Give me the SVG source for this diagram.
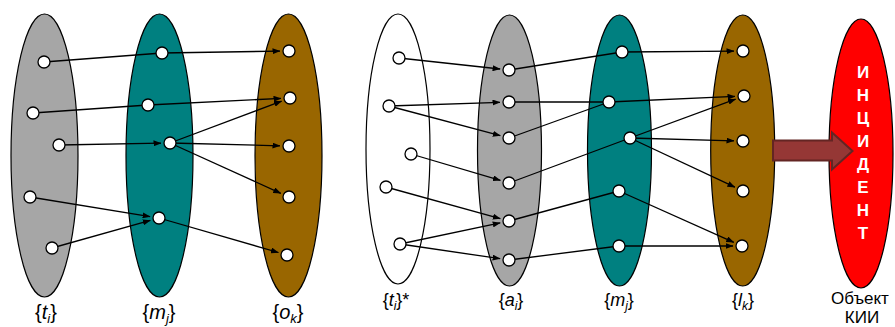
<svg xmlns="http://www.w3.org/2000/svg" width="895" height="327" viewBox="0 0 895 327">
<style>
.set{stroke:#000;stroke-width:1.2}
.pt{fill:#fff;stroke:#000;stroke-width:1.3}
.ln{stroke:#000;stroke-width:1.3;fill:none}
.ar{stroke:#000;stroke-width:1.3;fill:none;marker-end:url(#ah)}
.lbl{font-family:"Liberation Sans",Arial,sans-serif;fill:#000}
.L{font-size:20px}
.R{font-size:18px}
.K{font-size:17px}
.it{font-style:italic}
.inc{font-family:"Liberation Sans",Arial,sans-serif;font-size:17px;font-weight:bold;fill:#fff;text-anchor:middle}
</style>
<defs>
<marker id="ah" markerUnits="userSpaceOnUse" markerWidth="8" markerHeight="6" refX="7.5" refY="3" orient="auto">
<path d="M0,0 L8,3 L0,6 z" fill="#000"/>
</marker>
</defs>
<rect width="895" height="327" fill="#fff"/>

<g id="set-t"><ellipse class="set" cx="44.5" cy="155.5" rx="33.5" ry="141.5" fill="#A6A6A6"/></g>
<g id="set-m"><ellipse class="set" cx="159.5" cy="155.5" rx="33.5" ry="141.5" fill="#008080"/></g>
<g id="set-o"><ellipse class="set" cx="288.5" cy="155.5" rx="33.5" ry="141.5" fill="#996600"/></g>
<g id="set-tstar"><ellipse class="set" cx="398" cy="149" rx="32" ry="135" fill="#fff"/></g>
<g id="set-a"><ellipse class="set" cx="509.5" cy="150.5" rx="32" ry="135.5" fill="#A6A6A6"/></g>
<g id="set-m2"><ellipse class="set" cx="619.5" cy="150.5" rx="32" ry="135.5" fill="#008080"/></g>
<g id="set-l"><ellipse class="set" cx="742.7" cy="150.5" rx="32" ry="135.5" fill="#996600"/></g>
<g id="object-kii"><ellipse class="set" cx="861" cy="153.5" rx="32" ry="134.5" fill="#FF0000"/></g>

<g id="connectors">
<line class="ln" x1="44" y1="62" x2="162" y2="53"/>
<line class="ar" x1="162" y1="53" x2="280" y2="51.1"/>
<line class="ln" x1="33" y1="113" x2="148" y2="105"/>
<line class="ar" x1="148" y1="105" x2="281" y2="98.4"/>
<line class="ar" x1="59" y1="145" x2="161" y2="143.2"/>
<line class="ar" x1="170" y1="143" x2="281.6" y2="101.2"/>
<line class="ar" x1="170" y1="143" x2="280" y2="145.8"/>
<line class="ar" x1="170" y1="143" x2="280.8" y2="193.3"/>
<line class="ar" x1="30" y1="197" x2="150.1" y2="216.6"/>
<line class="ar" x1="52" y1="248" x2="150.3" y2="220.4"/>
<line class="ar" x1="159" y1="218" x2="278.4" y2="252.5"/>

<line class="ar" x1="399" y1="58" x2="500.1" y2="69"/>
<line class="ar" x1="389" y1="106" x2="500" y2="102.3"/>
<line class="ar" x1="389" y1="106" x2="500.3" y2="135.7"/>
<line class="ar" x1="411" y1="154" x2="500.4" y2="180.4"/>
<line class="ar" x1="386" y1="187" x2="500.3" y2="218.6"/>
<line class="ar" x1="400" y1="244" x2="500.2" y2="222.9"/>
<line class="ar" x1="400" y1="244" x2="500.1" y2="258.7"/>

<line class="ln" x1="509" y1="70" x2="622" y2="52"/>
<line class="ln" x1="509" y1="102" x2="609" y2="102"/>
<line class="ln" x1="509" y1="138" x2="609" y2="102"/>
<line class="ln" x1="509" y1="183" x2="630" y2="138"/>
<line class="ln" x1="509" y1="221" x2="619" y2="191"/>
<line class="ln" x1="509" y1="260" x2="619" y2="246"/>

<line class="ar" x1="622" y1="52" x2="734" y2="51.1"/>
<line class="ar" x1="609" y1="102" x2="735" y2="96.4"/>
<line class="ar" x1="630" y1="138" x2="735.6" y2="99.1"/>
<line class="ar" x1="630" y1="138" x2="734" y2="140.8"/>
<line class="ar" x1="630" y1="138" x2="734.9" y2="187.2"/>
<line class="ar" x1="619" y1="191" x2="733.8" y2="242.3"/>
<line class="ar" x1="619" y1="246" x2="733" y2="246"/>

<polygon points="773,140.5 832,140.5 832,132.5 852.5,151 832,169.5 832,160.5 773,160.5" fill="#953735" stroke="#632523" stroke-width="2"/>
</g>

<g id="points-t">
<circle class="pt" cx="44" cy="62" r="6"/>
<circle class="pt" cx="33" cy="113" r="6"/>
<circle class="pt" cx="59" cy="145" r="6"/>
<circle class="pt" cx="30" cy="197" r="6"/>
<circle class="pt" cx="52" cy="248" r="6"/>
</g>
<g id="points-m">
<circle class="pt" cx="162" cy="53" r="6"/>
<circle class="pt" cx="148" cy="105" r="6"/>
<circle class="pt" cx="170" cy="143" r="6"/>
<circle class="pt" cx="159" cy="218" r="6"/>
</g>
<g id="points-o">
<circle class="pt" cx="289" cy="51" r="6"/>
<circle class="pt" cx="290" cy="98" r="6"/>
<circle class="pt" cx="289" cy="146" r="6"/>
<circle class="pt" cx="289" cy="197" r="6"/>
<circle class="pt" cx="287" cy="255" r="6"/>
</g>
<g id="points-tstar">
<circle class="pt" cx="399" cy="58" r="6"/>
<circle class="pt" cx="389" cy="106" r="6"/>
<circle class="pt" cx="411" cy="154" r="6"/>
<circle class="pt" cx="386" cy="187" r="6"/>
<circle class="pt" cx="400" cy="244" r="6"/>
</g>
<g id="points-a">
<circle class="pt" cx="509" cy="70" r="6"/>
<circle class="pt" cx="509" cy="102" r="6"/>
<circle class="pt" cx="509" cy="138" r="6"/>
<circle class="pt" cx="509" cy="183" r="6"/>
<circle class="pt" cx="509" cy="221" r="6"/>
<circle class="pt" cx="509" cy="260" r="6"/>
</g>
<g id="points-m2">
<circle class="pt" cx="622" cy="52" r="6"/>
<circle class="pt" cx="609" cy="102" r="6"/>
<circle class="pt" cx="630" cy="138" r="6"/>
<circle class="pt" cx="619" cy="191" r="6"/>
<circle class="pt" cx="619" cy="246" r="6"/>
</g>
<g id="points-l">
<circle class="pt" cx="743" cy="51" r="6"/>
<circle class="pt" cx="744" cy="96" r="6"/>
<circle class="pt" cx="743" cy="141" r="6"/>
<circle class="pt" cx="743" cy="191" r="6"/>
<circle class="pt" cx="742" cy="246" r="6"/>
</g>

<g id="incident-text">
<text class="inc" x="863" y="78">И</text>
<text class="inc" x="863" y="101">Н</text>
<text class="inc" x="863" y="124">Ц</text>
<text class="inc" x="863" y="147">И</text>
<text class="inc" x="863" y="170">Д</text>
<text class="inc" x="863" y="193">Е</text>
<text class="inc" x="863" y="216">Н</text>
<text class="inc" x="863" y="239">Т</text>
</g>

<g id="labels">
<text class="lbl L" x="46" y="319" text-anchor="middle">{<tspan class="it">t</tspan><tspan class="it" font-size="13" dy="4">i</tspan><tspan dy="-4">}</tspan></text>
<text class="lbl L" x="159" y="319" text-anchor="middle">{<tspan class="it">m</tspan><tspan class="it" font-size="13" dy="4">j</tspan><tspan dy="-4">}</tspan></text>
<text class="lbl L" x="288" y="319" text-anchor="middle">{<tspan class="it">o</tspan><tspan class="it" font-size="13" dy="4">k</tspan><tspan dy="-4">}</tspan></text>
<text class="lbl R" x="396" y="306" text-anchor="middle">{<tspan class="it">t</tspan><tspan class="it" font-size="12" dy="4">i</tspan><tspan dy="-4">}*</tspan></text>
<text class="lbl R" x="511" y="306" text-anchor="middle">{<tspan class="it">a</tspan><tspan class="it" font-size="12" dy="4">i</tspan><tspan dy="-4">}</tspan></text>
<text class="lbl R" x="619" y="306" text-anchor="middle">{<tspan class="it">m</tspan><tspan class="it" font-size="12" dy="4">j</tspan><tspan dy="-4">}</tspan></text>
<text class="lbl R" x="743" y="306" text-anchor="middle">{<tspan class="it">l</tspan><tspan class="it" font-size="12" dy="4">k</tspan><tspan dy="-4">}</tspan></text>
<text class="lbl K" x="831" y="304">Объект</text>
<text class="lbl K" x="862" y="323" text-anchor="middle">КИИ</text>
</g>
</svg>
